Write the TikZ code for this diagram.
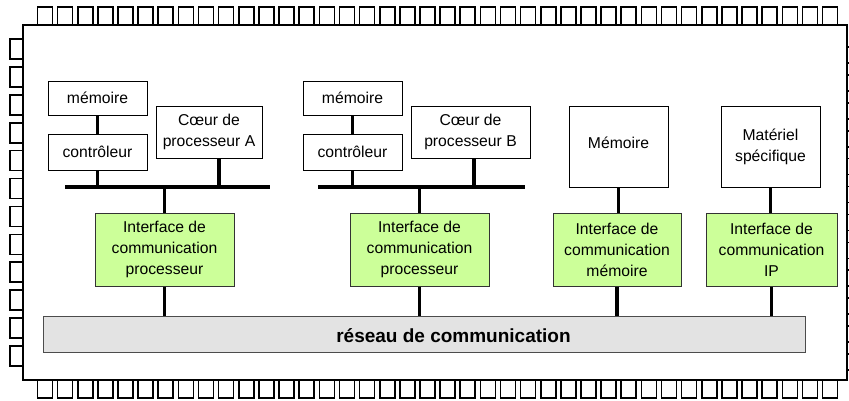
\documentclass[tikz,border=0pt]{standalone}
\usepackage{fontspec}
\setmainfont{Liberation Sans}
\definecolor{ifgreen}{RGB}{204,255,153}
\definecolor{netgray}{RGB}{227,227,227}
\begin{document}
\begin{tikzpicture}[x=1pt,y=-1pt,
  box/.style={draw=black, line width=1pt, fill=white, align=center,
    font=\fontsize{15.7}{21}\selectfont, inner sep=0pt},
  iface/.style={box, fill=ifgreen, draw=black!80},
  netbox/.style={draw=black!70, line width=1pt, fill=netgray},
  wire/.style={line width=3.5pt},
  bus/.style={line width=4pt},
  pad/.style={draw=black, line width=1.6pt, fill=white},
  chip/.style={draw=black, line width=1.2pt},
]
\useasboundingbox (0,0) rectangle (849,400);
% pads
\foreach \k in {0,...,39}{
  \draw[pad] ({37.5+20.13*\k},7) rectangle ++(15,18);
  \draw[pad] ({37.5+20.13*\k},380) rectangle ++(15,18);
}
\foreach \k in {0,...,11}{
  \draw[pad] (10,{39+27.9*\k}) rectangle ++(13,20);
  \draw[pad] (847,{47+27.9*\k}) rectangle ++(20,16);
}
% chip outline
\draw[chip, fill=white] (23,25) rectangle (847,380);

% group A
\node[box, minimum width=99pt, minimum height=34pt] (memA) at (97.5,98) {mémoire};
\node[box, minimum width=99pt, minimum height=36pt] (ctrlA) at (97.5,152) {contrôleur};
\node[box, minimum width=106pt, minimum height=52pt] (coreA) at (209,132) {Cœur de\\processeur A};
\coordinate (busAl) at (65,187);
\coordinate (busAr) at (270,187);
\node[iface, minimum width=139pt, minimum height=73pt] (ifA) at (164.5,249.5) {Interface de\\communication\\processeur};

% group B
\node[box, minimum width=99pt, minimum height=34pt] (memB) at (352.5,98) {mémoire};
\node[box, minimum width=99pt, minimum height=36pt] (ctrlB) at (352.5,152) {contrôleur};
\node[box, minimum width=119pt, minimum height=52pt] (coreB) at (470.5,132) {Cœur de\\processeur B};
\coordinate (busBl) at (318,187);
\coordinate (busBr) at (525,187);
\node[iface, minimum width=139pt, minimum height=73pt] (ifB) at (419.5,249.5) {Interface de\\communication\\processeur};

% memory column
\node[box, minimum width=99pt, minimum height=81pt, text depth=8pt] (memM) at (618.5,146.5) {Mémoire};
\node[iface, minimum width=128pt, minimum height=73pt] (ifM) at (617,249.5) {Interface de\\communication\\mémoire};

% IP column
\node[box, minimum width=99pt, minimum height=81pt] (hw) at (770.5,146.5) {Matériel\\spécifique};
\node[iface, minimum width=131pt, minimum height=73pt] (ifIP) at (771.5,249.5) {Interface de\\communication\\IP};

% network
\node[netbox, minimum width=762pt, minimum height=36pt, inner sep=0pt] (net) at (424,334) {};
\node[font=\fontsize{19}{21}\selectfont\bfseries] (netlbl) at (453.5,336) {réseau de communication};

% buses
\draw[bus] (busAl) -- (busAr);
\draw[bus] (busBl) -- (busBr);

% wires group A
\draw[wire] (memA.south) -- (ctrlA.north);
\draw[wire] (ctrlA.south) -- (ctrlA.south |- busAl);
\draw[wire] ([xshift=10pt]coreA.south) -- ([xshift=10pt]coreA.south |- busAl);
\draw[wire] (ifA.north |- busAl) -- (ifA.north);
\draw[wire] (ifA.south) -- (ifA.south |- net.north);

% wires group B
\draw[wire] (memB.south) -- (ctrlB.north);
\draw[wire] (ctrlB.south) -- (ctrlB.south |- busBl);
\draw[wire] ([xshift=3.5pt]coreB.south) -- ([xshift=3.5pt]coreB.south |- busBl);
\draw[wire] (ifB.north |- busBl) -- (ifB.north);
\draw[wire] (ifB.south) -- (ifB.south |- net.north);

% memory / IP wires
\draw[wire] (memM.south) -- (memM.south |- ifM.north);
\draw[wire] (ifM.south) -- (ifM.south |- net.north);
\draw[wire] (hw.south) -- (hw.south |- ifIP.north);
\draw[wire] (ifIP.south) -- (ifIP.south |- net.north);
\end{tikzpicture}
\end{document}
